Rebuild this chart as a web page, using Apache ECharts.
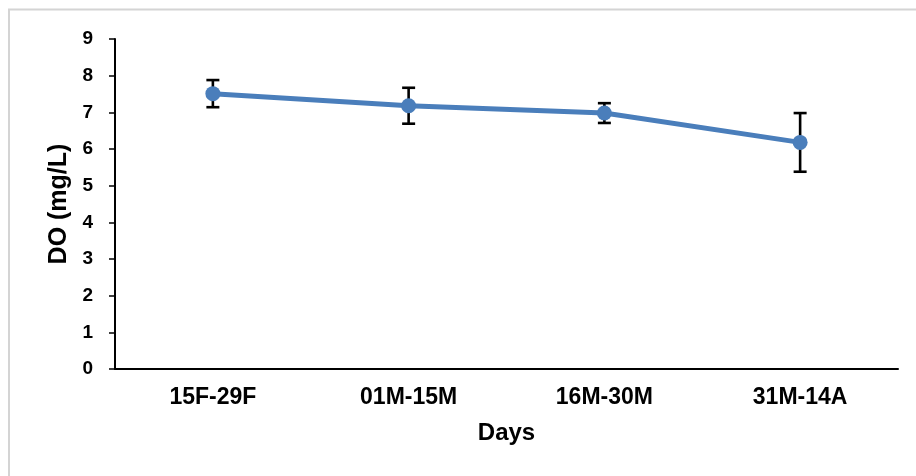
<!DOCTYPE html>
<html>
<head>
<meta charset="utf-8">
<script src="https://cdn.jsdelivr.net/npm/echarts@6/dist/echarts.min.js"></script>
<style>
  html, body { margin: 0; padding: 0; background: #ffffff; }
  #chart { width: 916px; height: 476px; }
</style>
</head>
<body>
<div id="chart"></div>
<script>
// Sampling periods
const periods = ['15F-29F', '01M-15M', '16M-30M', '31M-14A'];
// Mean dissolved oxygen (mg/L) per period
const doMean = [7.51, 7.18, 6.98, 6.18];
// Standard deviation per period
const doSd = [0.37, 0.49, 0.27, 0.80];
// Y-axis ticks
const yTicks = [0, 1, 2, 3, 4, 5, 6, 7, 8, 9];

const FONT = '"Liberation Sans", Arial, sans-serif';
const chart = echarts.init(document.getElementById('chart'));

const errorData = periods.map((p, i) => [i, doMean[i] - doSd[i], doMean[i] + doSd[i]]);

chart.setOption({
  animation: false,
  backgroundColor: '#ffffff',
  graphic: [{
    type: 'rect',
    shape: { x: 9, y: 9.5, width: 940, height: 500 },
    style: { fill: 'none', stroke: '#d4d4d4', lineWidth: 2 },
    silent: true
  }],
  grid: { left: 115, right: 18, top: 39, bottom: 107 },
  xAxis: {
    type: 'category',
    data: periods,
    boundaryGap: true,
    name: 'Days',
    nameLocation: 'middle',
    nameGap: 52,
    nameTextStyle: { fontFamily: FONT, fontWeight: 'bold', fontSize: 24, color: '#000' },
    axisLine: { show: true, lineStyle: { color: '#000', width: 2 } },
    axisTick: { show: false },
    axisLabel: { fontFamily: FONT, fontWeight: 'bold', fontSize: 23, color: '#000', margin: 17 },
    splitLine: { show: false }
  },
  yAxis: {
    type: 'value',
    min: yTicks[0],
    max: yTicks[yTicks.length - 1],
    interval: 1,
    name: 'DO (mg/L)',
    nameLocation: 'middle',
    nameGap: 35,
    nameTextStyle: { fontFamily: FONT, fontWeight: 'bold', fontSize: 25, color: '#000' },
    axisLine: { show: true, lineStyle: { color: '#000', width: 2 } },
    axisTick: { show: true, inside: false, length: 6, lineStyle: { color: '#000', width: 1.5 } },
    axisLabel: { fontFamily: FONT, fontWeight: 'bold', fontSize: 19, color: '#000', margin: 22 },
    splitLine: { show: false }
  },
  series: [
    {
      type: 'custom',
      z: 1,
      data: errorData,
      renderItem: function (params, api) {
        const x = api.value(0);
        const lo = api.coord([x, api.value(1)]);
        const hi = api.coord([x, api.value(2)]);
        const cap = 6.5;
        const style = { stroke: '#000', lineWidth: 2.6 };
        return {
          type: 'group',
          children: [
            { type: 'line', shape: { x1: hi[0], y1: hi[1], x2: lo[0], y2: lo[1] }, style: style },
            { type: 'line', shape: { x1: hi[0] - cap, y1: hi[1], x2: hi[0] + cap, y2: hi[1] }, style: style },
            { type: 'line', shape: { x1: lo[0] - cap, y1: lo[1], x2: lo[0] + cap, y2: lo[1] }, style: style }
          ]
        };
      }
    },
    {
      type: 'line',
      z: 3,
      data: doMean,
      symbol: 'circle',
      symbolSize: 15,
      lineStyle: { color: '#4a7ebb', width: 5 },
      itemStyle: { color: '#4a7ebb' }
    }
  ]
});
</script>
</body>
</html>
